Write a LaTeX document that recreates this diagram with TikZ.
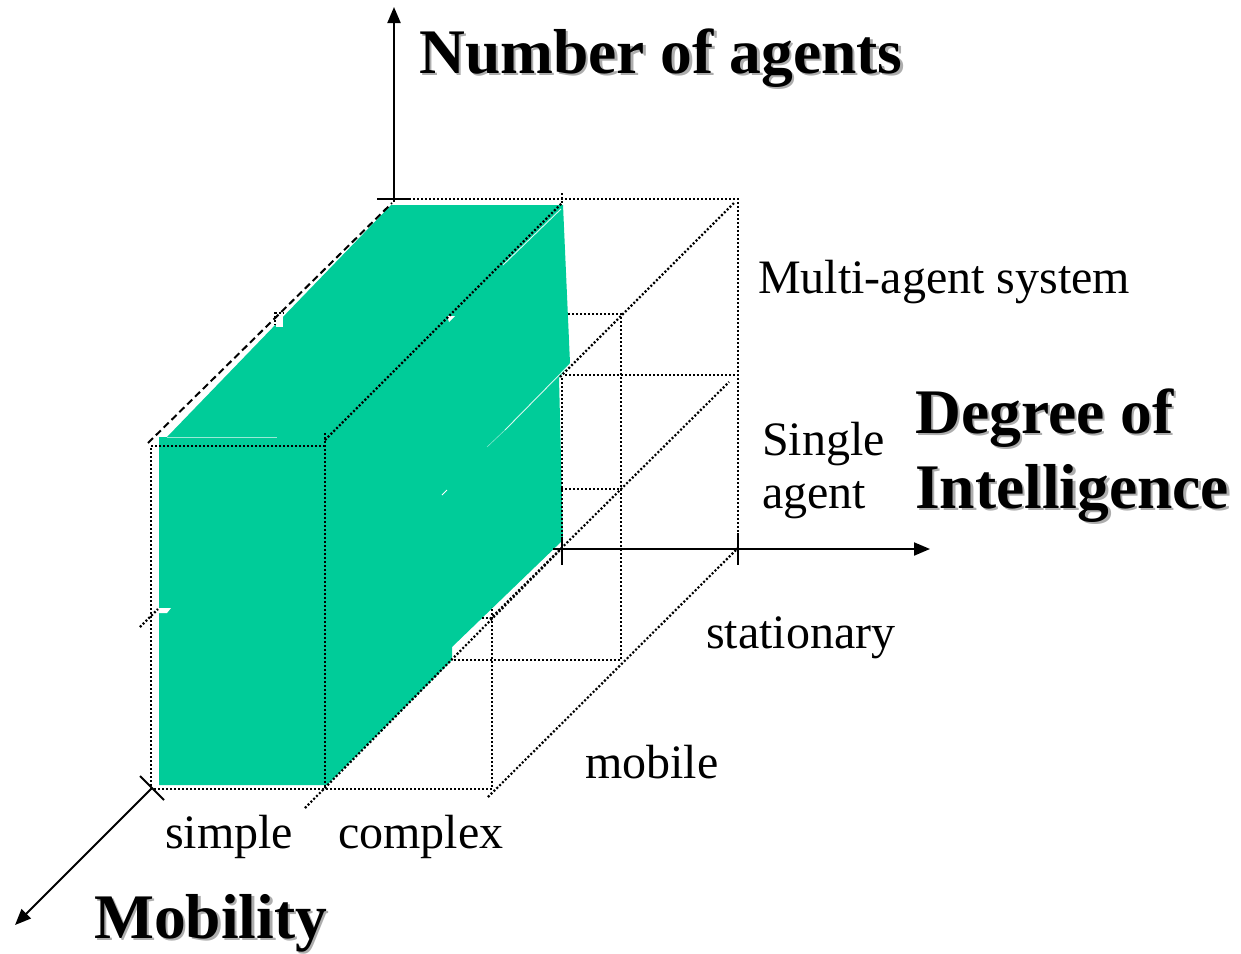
\documentclass[tikz,border=0pt]{standalone}
\usepackage{fontspec}
\setmainfont{Liberation Serif}
\usetikzlibrary{arrows.meta}
\definecolor{slab}{RGB}{0,204,153}
\tikzset{
  gridline/.style={line width=2.2pt, dash pattern=on 2pt off 2pt, black},
  edgedash/.style={line width=2pt, dash pattern=on 7pt off 4pt},
  axis/.style={line width=2pt},
  axisarrow/.style={axis, -{Triangle[length=16pt,width=13pt]}},
  glint/.style={white, line width=0.9pt, opacity=0.85},
  lbl/.style={inner sep=0pt, anchor=base west, font=\fontsize{48}{53}\selectfont},
  title/.style={inner sep=0pt, anchor=base west, font=\fontsize{63.5}{75}\selectfont\bfseries},
  titleshadow/.style={title, text=black!32, xshift=2.5pt, yshift=-2.5pt},
}
\begin{document}
\begin{tikzpicture}[x=1pt,y=-1pt]
\useasboundingbox (0,0) rectangle (1241,953);

% corner points of the grid box (front, middle and back planes)
\coordinate (FBL) at (151,789); \coordinate (FBM) at (325,789); \coordinate (FBR) at (492,789);
\coordinate (FTL) at (151,446); \coordinate (FTM) at (325,446);
\coordinate (BTL) at (393,199); \coordinate (BTM) at (562,199); \coordinate (BTR) at (738,199);
\coordinate (BMM) at (562,375); \coordinate (BMR) at (738,375);
\coordinate (BBM) at (562,548); \coordinate (BBR) at (738,548);
\coordinate (MTR) at (621,314); \coordinate (MBR) at (621,660);

% the highlighted slab (simple column)
\fill[slab] (159,785) -- (159,437) -- (167,437) -- (391,205) -- (563,205)
  -- (570,363) -- (559,378) -- (563,540) -- (452,647) -- (452,660) -- (327,785) -- cycle;

% small light seams on the slab
\draw[glint] (503,265) -- (561,209);
\draw[glint] (505,430) -- (569,365);
\draw[white, line width=0.6pt, opacity=0.5] (487,447) -- (505,430);
\draw[white, line width=0.8pt, opacity=0.6] (167,437) -- (277,437);
\fill[white] (276,314) rectangle (283,327);
\fill[white] (159,608) -- (171,608) -- (167,613) -- (159,613) -- cycle;
\fill[white] (447,316) -- (455,316) -- (449,322) -- cycle;
\draw[white, line width=1pt] (442,495) -- (447,490);

% dotted grid: back plane
\draw[gridline] (BTL) -- (BTR) -- (BBR);
\draw[gridline] (565,375) -- (BMR);
\draw[gridline] (562,378) -- (BBM);
\draw[gridline] (562,193) -- (562,204);
% dotted grid: middle plane
\draw[gridline] (568,314) -- (MTR) -- (MBR) -- (452,660);
\draw[gridline] (561,489) -- (621,489);
\draw[gridline] (275,312) -- (275,325);
\draw[gridline] (275,313) -- (284,313);
% dotted grid: front plane
\draw[gridline] (FTM) -- (FTL) -- (FBL) -- (FBR) -- (492,607);
\draw[gridline] (325,433) -- (FBM);
\draw[gridline] (482,618) -- (492,618);
% dotted grid: depth lines
\draw[gridline] (325,440) -- (562,203);
\draw[gridline] (560,377) -- (734,203);
\draw[gridline] (490,619) -- (729,382);
\draw[gridline] (305,808) -- (BBM);
\draw[gridline] (488,797) -- (BBR);
\draw[gridline] (140,627) -- (158,609);
\draw[edgedash] (148,443) -- (392,203);

% axes
\coordinate (Otop) at (394,202); \coordinate (Ntip) at (394,7);
\coordinate (Oright) at (553,549); \coordinate (Dtip) at (930,549);
\coordinate (Ofront) at (152,788); \coordinate (Mtip) at (15,925);
\draw[axisarrow] (Otop) -- (Ntip);
\draw[axisarrow] (Oright) -- (Dtip);
\draw[axisarrow] (Ofront) -- (Mtip);
\draw[axis] (377,199) -- (410,199);
\draw[axis] (562,537) -- (562,565);
\draw[axis] (738,533) -- (738,565);
\draw[axis] (140,776) -- (164,800);

% axis titles
\node[titleshadow] at (419,73) {Number of agents};
\node[title] (tN) at (419,73) {Number of agents};
\node[titleshadow] at (915,433) {Degree of};
\node[title] (tD1) at (915,433) {Degree of};
\node[titleshadow] at (915,508) {Intelligence};
\node[title] (tD2) at (915,508) {Intelligence};
\node[titleshadow] at (94,938) {Mobility};
\node[title] (tM) at (94,938) {Mobility};

% category labels
\node[lbl] (multi) at (758,293) {Multi-agent system};
\node[lbl] (single1) at (762,455) {Single};
\node[lbl] (single2) at (762,508) {agent};
\node[lbl] (stat) at (706,648) {stationary};
\node[lbl] (mob) at (585,778) {mobile};
\node[lbl] (simp) at (165,848) {simple};
\node[lbl] (comp) at (338,848) {complex};
\end{tikzpicture}
\end{document}
